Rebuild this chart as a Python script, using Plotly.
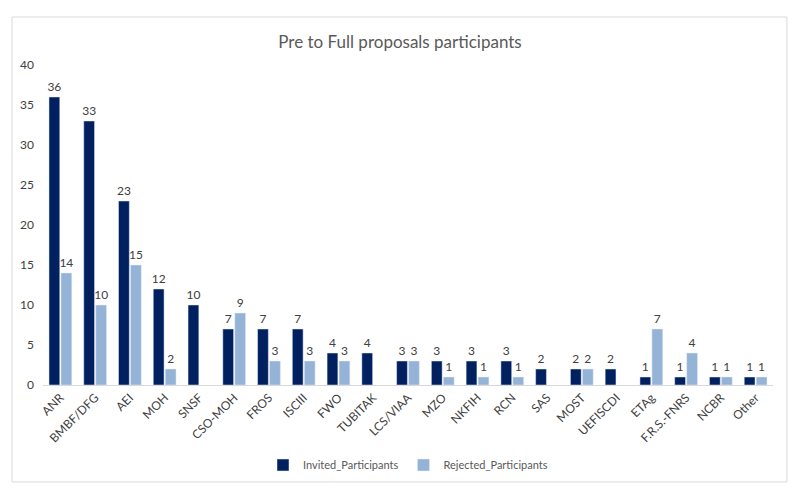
import plotly.graph_objects as go

categories = ["ANR", "BMBF/DFG", "AEI", "MOH", "SNSF", "CSO-MOH", "FROS", "ISCIII",
              "FWO", "TUBITAK", "LCS/VIAA", "MZO", "NKFIH", "RCN", "SAS", "MOST",
              "UEFISCDI", "ETAg", "F.R.S.-FNRS", "NCBR", "Other"]
invited = [36, 33, 23, 12, 10, 7, 7, 7, 4, 4, 3, 3, 3, 3, 2, 2, 2, 1, 1, 1, 1]
rejected = [14, 10, 15, 2, None, 9, 3, 3, 3, None, 3, 1, 1, 1, None, 2, None, 7, 4, 1, 1]
y_ticks = [0, 5, 10, 15, 20, 25, 30, 35, 40]

FONT = "Lato, 'Open Sans', sans-serif"
LABEL_FONT = dict(size=12, color="#404040", family=FONT)


def labels(vals):
    return ["" if v is None else str(v) for v in vals]


fig = go.Figure()
for name, vals, color in [("Invited_Participants", invited, "#002060"),
                          ("Rejected_Participants", rejected, "#95B3D7")]:
    fig.add_trace(go.Bar(
        x=categories, y=vals, name=name, marker_color=color,
        text=labels(vals), textposition="outside", cliponaxis=False,
        constraintext="none", textfont=LABEL_FONT, outsidetextfont=LABEL_FONT,
    ))

fig.update_layout(
    width=800, height=500,
    margin=dict(l=43, r=27, t=65, b=115, autoexpand=False),
    paper_bgcolor="white", plot_bgcolor="white",
    font=dict(family=FONT, color="#404040", size=12),
    title=dict(text="Pre to Full proposals participants", x=0.5, xanchor="center",
               y=0.916, yanchor="middle",
               font=dict(size=17, color="#595959", family=FONT)),
    barmode="group", bargap=0.31, bargroupgap=0.1,
    showlegend=True,
    legend=dict(orientation="h", x=0.5, xanchor="center", y=-0.25, yanchor="middle",
                font=dict(size=11, color="#595959"), traceorder="normal",
                itemwidth=30),
    xaxis=dict(tickangle=-45, showline=True, linecolor="#D9D9D9", linewidth=1,
               ticks="", automargin=False, tickfont=dict(size=12, color="#404040")),
    yaxis=dict(range=[0, 40], tickvals=y_ticks, showgrid=False, zeroline=False,
               showline=False, ticks="", automargin=False, ticklabelstandoff=8,
               tickfont=dict(size=12, color="#404040")),
)

# outer chart border
fig.add_shape(type="rect", xref="paper", yref="paper",
              x0=-0.0425, x1=1.019, y0=-0.303, y1=1.15,
              line=dict(color="#D9D9D9", width=1), fillcolor="rgba(0,0,0,0)", layer="below")

# drop the browser's default body margin so the figure sits at the window edge
fig.write_html("out.html", config={"displayModeBar": False},
               post_script="document.body.style.margin='0';")
